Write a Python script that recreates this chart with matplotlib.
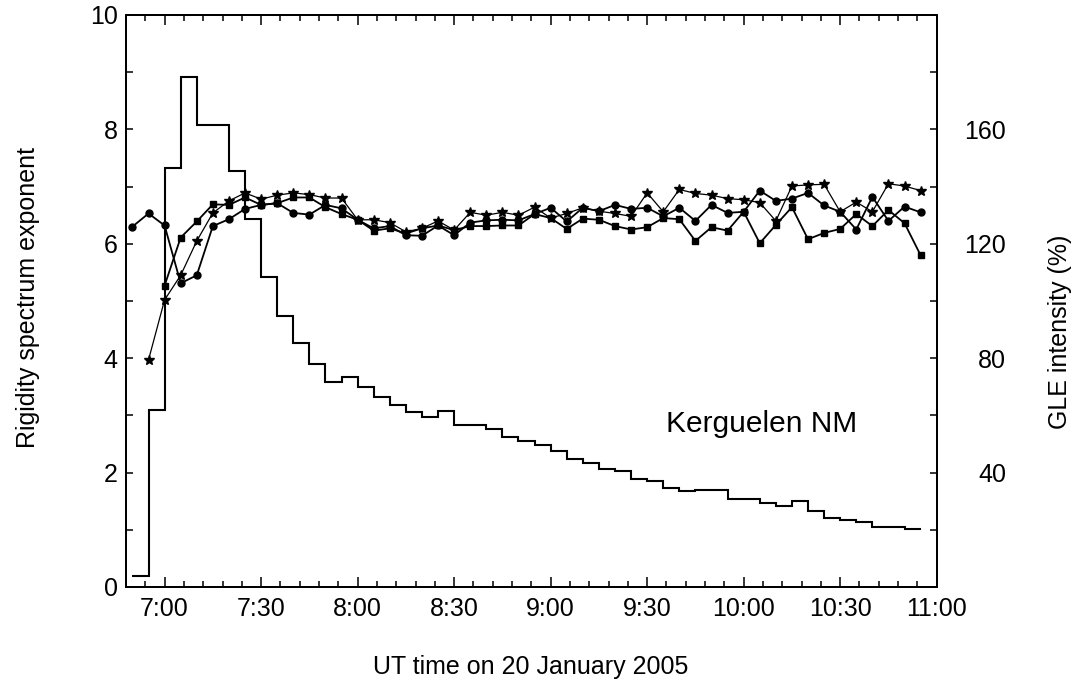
import matplotlib
matplotlib.use("Agg")
import matplotlib.pyplot as plt
from matplotlib.ticker import MultipleLocator

plt.rcParams['font.family'] = ['Liberation Sans', 'DejaVu Sans']

# ---------------- data ----------------
# GLE intensity histogram (5-min bins), bin edges in UT
gle_edges = ["6:50", "6:55", "7:00", "7:05", "7:10", "7:15", "7:20", "7:25", "7:30", "7:35",
             "7:40", "7:45", "7:50", "7:55", "8:00", "8:05", "8:10", "8:15", "8:20", "8:25",
             "8:30", "8:35", "8:40", "8:45", "8:50", "8:55", "9:00", "9:05", "9:10", "9:15",
             "9:20", "9:25", "9:30", "9:35", "9:40", "9:45", "9:50", "9:55", "10:00", "10:05",
             "10:10", "10:15", "10:20", "10:25", "10:30", "10:35", "10:40", "10:45", "10:50", "10:55"]
gle_intensity = [3.8, 61.8, 146.4, 178.4, 161.6, 161.4, 145.4, 128.6, 108.4, 94.8,
                 85.2, 78.0, 71.8, 73.4, 69.8, 66.6, 63.8, 61.2, 59.4, 61.4,
                 56.6, 56.6, 55.4, 52.4, 51.0, 49.6, 47.6, 44.8, 43.4, 41.4,
                 40.4, 37.8, 37.0, 34.6, 33.6, 34.0, 33.8, 30.8, 30.6, 29.4,
                 28.4, 30.2, 26.6, 24.2, 23.4, 22.6, 21.0, 21.0, 20.2]

# Rigidity spectrum exponent, three series
times_circle = gle_edges[:]            # 6:50 .. 10:55
gamma_circle = [6.30, 6.53,
                6.32, 5.31, 5.45, 6.31, 6.43, 6.61, 6.68, 6.71, 6.54, 6.51, 6.68, 6.62,
                6.42, 6.27, 6.31, 6.15, 6.14, 6.32, 6.15, 6.37, 6.41, 6.42, 6.41, 6.52,
                6.63, 6.39, 6.63, 6.57, 6.68, 6.61, 6.63, 6.48, 6.63, 6.40, 6.68, 6.54,
                6.56, 6.93, 6.75, 6.79, 6.89, 6.67, 6.56, 6.25, 6.82, 6.40, 6.65, 6.55]

times_star = gle_edges[1:]             # 6:55 .. 10:55
gamma_star = [3.97,
              5.02, 5.45, 6.05, 6.54, 6.75, 6.89, 6.78, 6.85, 6.89, 6.86, 6.80, 6.80,
              6.42, 6.42, 6.37, 6.21, 6.27, 6.40, 6.24, 6.55, 6.50, 6.55, 6.50, 6.64,
              6.45, 6.53, 6.63, 6.57, 6.53, 6.48, 6.89, 6.56, 6.95, 6.88, 6.85, 6.79,
              6.77, 6.72, 6.40, 7.01, 7.03, 7.04, 6.56, 6.73, 6.56, 7.05, 7.01, 6.93]

times_square = gle_edges[2:]           # 7:00 .. 10:55
gamma_square = [5.27, 6.11, 6.39, 6.69, 6.68, 6.81, 6.68, 6.71, 6.81, 6.81, 6.64, 6.52,
                6.42, 6.23, 6.27, 6.18, 6.27, 6.32, 6.24, 6.31, 6.31, 6.32, 6.32, 6.52,
                6.45, 6.26, 6.44, 6.42, 6.31, 6.25, 6.29, 6.45, 6.43, 6.05, 6.29, 6.23,
                6.56, 6.01, 6.33, 6.64, 6.08, 6.19, 6.26, 6.52, 6.31, 6.59, 6.36, 5.80]

x_ticks = ["7:00", "7:30", "8:00", "8:30", "9:00", "9:30", "10:00", "10:30", "11:00"]
left_labels = [0, 2, 4, 6, 8, 10]
right_labels = [40, 80, 120, 160]


def to_min(s):
    h, m = s.split(":")
    return int(h) * 60 + int(m)


# ---------------- figure ----------------
W, H = 1089, 688
fig = plt.figure(figsize=(W / 100, H / 100), dpi=100)
ax = fig.add_axes([126 / W, 1 - 587 / H, (936.7 - 126) / W, (587 - 15) / H])
ax2 = ax.twinx()

# spectrum exponent series
ax.plot([to_min(t) for t in times_circle], gamma_circle, '-o', color='black',
        lw=1.3, ms=5, zorder=4)
ax.plot([to_min(t) for t in times_square], gamma_square, '-s', color='black',
        lw=1.3, ms=4.5, zorder=4)
ax.plot([to_min(t) for t in times_star], gamma_star, '-*', color='black',
        lw=0.9, ms=7.5, zorder=4)

# GLE histogram
ax2.stairs(gle_intensity, [to_min(t) for t in gle_edges], color='black', lw=1.5,
           baseline=None)

ax.set_xlim(to_min("6:48"), to_min("11:00"))
ax.set_ylim(0, 10)
ax2.set_ylim(0, 200)

# x ticks
ax.set_xticks([to_min(t) for t in x_ticks])
ax.set_xticklabels(x_ticks)
ax.xaxis.set_minor_locator(MultipleLocator(6))

# left y ticks
ax.set_yticks(range(0, 11))
ax.set_yticklabels([str(v) if v in left_labels else "" for v in range(0, 11)])

# right y ticks
ax2.set_yticks(range(0, 201, 20))
ax2.set_yticklabels([str(v) if v in right_labels else "" for v in range(0, 201, 20)])
for lab in ax2.get_yticklabels():
    lab.set_ha('right')

ax.tick_params(axis='x', which='major', direction='in', length=7, width=1.1,
               top=True, labelsize=18, pad=7)
ax.tick_params(axis='x', which='minor', direction='in', length=4, width=1.1, top=True)
ax.tick_params(axis='y', which='major', direction='in', length=5, width=1.1,
               labelsize=18, pad=6)
ax2.tick_params(axis='y', which='major', direction='in', length=5, width=1.1,
                labelsize=18, pad=50)

for a in (ax, ax2):
    for sp in a.spines.values():
        sp.set_linewidth(1.4)

ax.text(to_min("9:36"), 2.71, "Kerguelen NM", fontsize=21.5, ha='left', va='baseline')

fig.text(28 / W, 1 - 297 / H, "Rigidity spectrum exponent", rotation=90,
         ha='center', va='center', fontsize=18)
fig.text(1060 / W, 1 - 332 / H, "GLE intensity (%)", rotation=90,
         ha='center', va='center', fontsize=18)
fig.text(531 / W, 1 - 667 / H, "UT time on 20 January 2005",
         ha='center', va='center', fontsize=18)

fig.savefig("out.png", dpi=100)
